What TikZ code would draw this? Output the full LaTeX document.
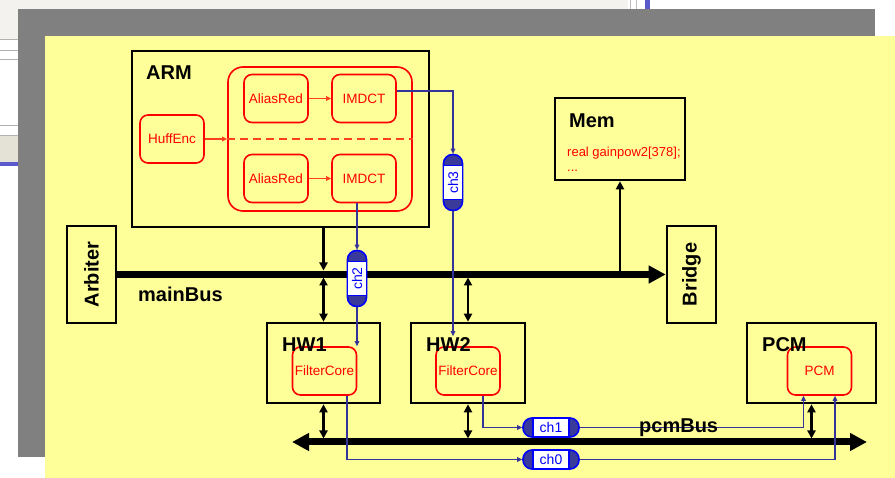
\documentclass[tikz,border=0pt]{standalone}
\usepackage{fontspec}
\setmainfont{Liberation Sans}
\usepackage{xcolor}
\usetikzlibrary{arrows.meta}

\definecolor{paper}{HTML}{FFFF99}
\definecolor{frame}{HTML}{808080}
\definecolor{uigray}{HTML}{F3F2EF}
\definecolor{uibeige}{HTML}{E4E2D6}
\definecolor{uiblue}{HTML}{5A5ACD}
\definecolor{chline}{HTML}{333399}
\definecolor{chblue}{HTML}{0000FF}
\definecolor{chdark}{HTML}{3A3A9A}
\definecolor{arrred}{HTML}{FF4020}

\begin{document}
\begin{tikzpicture}[x=1pt,y=-1pt,
  box/.style={draw=black,line width=2.6pt,inner sep=0pt},
  core/.style={draw=red,fill=paper,line width=1.6pt,rounded corners=8pt,inner sep=0pt,
    minimum width=64pt,minimum height=48pt,text=red,font=\fontsize{13.5}{16}\selectfont},
  hdr/.style={font=\fontsize{20}{24}\selectfont\bfseries,inner sep=0pt},
  chanbox/.style={draw=chblue,fill=chdark,line width=1.6pt,rounded corners=9pt,inner sep=0pt},
  chanmid/.style={draw=chblue,fill=white,line width=1.2pt,inner sep=0pt,text=chblue,
    font=\fontsize{14}{16}\selectfont},
  chl/.style={draw=chline,line width=1.3pt,-{Triangle[length=5pt,width=4.5pt]}},
  redarr/.style={draw=arrred,line width=1.6pt,-{Triangle[length=5pt,width=4.5pt]}},
  sgl/.style={line width=2.4pt,-{Triangle[length=8pt,width=8pt]}},
  dbl/.style={line width=2.4pt,{Triangle[length=8pt,width=8pt]}-{Triangle[length=8pt,width=8pt]}},
  bus/.style={line width=7pt}]

\useasboundingbox (0,0) rectangle (895,478);

% Screen background
\fill[white] (0,0) rectangle (895,478);
\fill[uigray] (0,0) rectangle (628,9);
\fill[uigray] (0,0) rectangle (18,39);
\draw[gray!60] (0,39.5) -- (18,39.5) (0,50.5) -- (18,50.5) (0,59.5) -- (18,59.5);
\draw[gray!60] (0,125.5) -- (18,125.5) (0,135) -- (18,135);
\fill[uibeige] (0,136) rectangle (18,162);
\fill[uiblue] (0,162) rectangle (18,166);
\fill[uiblue] (645,0) rectangle (650,9);
\draw[gray!50] (630.5,0) -- (630.5,9) (636.5,0) -- (636.5,9);

% Sheet
\fill[frame] (18,9) rectangle (875,457);
\fill[paper] (45,36) rectangle (895,478);

% ARM
\node[box,minimum width=297pt,minimum height=176pt] (arm) at (280.5,139) {};
\node[hdr,anchor=base west] (armlbl) at (146,80) {ARM};
\node[draw=red,line width=1.6pt,rounded corners=15pt,minimum width=184pt,minimum height=144pt] (inner) at (320,139) {};
\node[core] (huff) at (172,139) {HuffEnc};
\node[core] (ar1) at (276,98.5) {AliasRed};
\node[core] (im1) at (364,98.5) {IMDCT};
\node[core] (ar2) at (276,178.5) {AliasRed};
\node[core] (im2) at (364,178.5) {IMDCT};
\draw[redarr] (huff.east) -- (inner.west);
\draw[arrred,line width=1.6pt,dash pattern=on 8pt off 5pt] (inner.west) -- (inner.east);
\draw[redarr] (ar1.east) -- (im1.west);
\draw[redarr] (ar2.east) -- (im2.west);

% Mem
\node[box,minimum width=130pt,minimum height=82pt] (mem) at (620,139) {};
\node[hdr,anchor=base west] (memlbl) at (569,128) {Mem};
\node[anchor=base west,inner sep=0pt,text=red,font=\fontsize{13}{15}\selectfont] (memvar) at (567,157) {real gainpow2[378];};
\node[anchor=base west,inner sep=0pt,text=red,font=\fontsize{13}{15}\selectfont] (memdots) at (567,172) {...};

% Arbiter and Bridge
\node[box,minimum width=49pt,minimum height=97pt] (arb) at (91.5,274.5) {};
\node[hdr,rotate=90] (arblbl) at (arb) {Arbiter};
\node[box,minimum width=49pt,minimum height=97pt] (brg) at (691.5,274.5) {};
\node[hdr,rotate=90] (brglbl) at (brg) {Bridge};

% HW1, HW2, PCM
\node[box,minimum width=113pt,minimum height=80pt] (hw1) at (323.5,363) {};
\node[core] (fc1) at (324.5,371) {FilterCore};
\node[hdr,anchor=base west] (hw1lbl) at (282,352) {HW1};
\node[box,minimum width=114pt,minimum height=80pt] (hw2) at (468,363) {};
\node[core] (fc2) at (468,371) {FilterCore};
\node[hdr,anchor=base west] (hw2lbl) at (426,352) {HW2};
\node[box,minimum width=129pt,minimum height=80pt] (pcm) at (811.5,363) {};
\node[core] (pcmc) at (819.5,371) {PCM};
\node[hdr,anchor=base west] (pcmlbl) at (762,352) {PCM};

% Buses
\draw[bus,-{Triangle[length=17pt,width=17pt]}] (arb.east) -- (brg.west);
\coordinate (pl) at (292,442);
\coordinate (pr) at (867,442);
\draw[bus,{Triangle[length=17pt,width=17pt]}-{Triangle[length=17pt,width=17pt]}] (pl) -- (pr);

% Bus ports
\coordinate (mb1) at (323.5,274);
\coordinate (mb2) at (468,274);
\coordinate (mb3) at (620,274);
\coordinate (pb1) at (323.5,442);
\coordinate (pb2) at (468,442);
\coordinate (pb3) at (811.5,442);
\draw[sgl] (arm.south -| mb1) -- ([yshift=3.5pt]mb1);
\draw[dbl] ([yshift=-3.5pt]mb1) -- (hw1.north);
\draw[dbl] ([yshift=-3.5pt]mb2) -- (hw2.north);
\draw[sgl] (mb3) -- (mem.south);
\draw[dbl] (hw1.south) -- ([yshift=3.5pt]pb1);
\draw[dbl] (hw2.south) -- ([yshift=3.5pt]pb2);
\draw[dbl] (pcm.south) -- ([yshift=3.5pt]pb3);

% Channels
\node[chanbox,minimum width=19pt,minimum height=56pt] (ch3) at (453,182.5) {};
\node[chanbox,minimum width=19pt,minimum height=56pt] (ch2) at (357,278.5) {};
\node[chanbox,minimum width=56pt,minimum height=19pt] (ch1) at (551,427.5) {};
\node[chanbox,minimum width=56pt,minimum height=19pt] (ch0) at (551,459.5) {};
\draw[chl] ([yshift=7.5pt]im1.east) -| (ch3.north);
\draw[chl] (ch3.south) -- ([yshift=10pt]ch3.south |- fc2.north);
\draw[chl] (im2.south -| ch2) -- (ch2.north);
\draw[chl] (ch2.south) -- (ch2.south |- fc1.north);
\draw[chl] ([xshift=15pt]fc2.south) |- (ch1.west);
\draw[chl] (ch1.east) -| ([xshift=-16pt]pcmc.south);
\draw[chl] ([xshift=22.5pt]fc1.south) |- (ch0.west);
\draw[chl] (ch0.east) -| ([xshift=15.5pt]pcmc.south);
\node[chanmid,rotate=90,minimum width=34pt,minimum height=19pt] (ch3t) at (ch3) {ch3};
\node[chanmid,rotate=90,minimum width=34pt,minimum height=19pt] (ch2t) at (ch2) {ch2};
\node[chanmid,minimum width=36pt,minimum height=19pt] (ch1t) at (ch1) {ch1};
\node[chanmid,minimum width=36pt,minimum height=19pt] (ch0t) at (ch0) {ch0};

% Bus names
\node[hdr,anchor=base west] (mainlbl) at (138,302) {mainBus};
\node[hdr,anchor=base west] (pcmbuslbl) at (639,432) {pcmBus};

\end{tikzpicture}
\end{document}
